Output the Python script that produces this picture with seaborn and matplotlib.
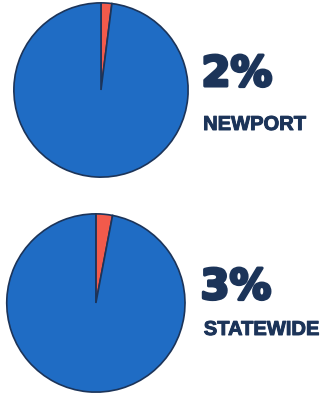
import seaborn as sns
import matplotlib.pyplot as plt
import matplotlib.patheffects as pe

# share of each area (red slice) vs the rest
areas = ["NEWPORT", "STATEWIDE"]
shares = [2, 3]
labels = ["2%", "3%"]

sns.set_theme(style="white")
plt.rcParams['font.family'] = ['Liberation Sans', 'DejaVu Sans']

blue = "#1f6cc4"
red = "#f25a4b"
navy = "#1c3459"

fig = plt.figure(figsize=(3.25, 4), dpi=100)
fig.patch.set_facecolor("white")

# axes boxes in figure fractions (left, bottom, width, height)
boxes = [[0.04, 0.555, 0.5415, 0.44], [0.018, 0.015, 0.554, 0.455]]
big_pos = [(0.62, 0.785), (0.617, 0.2525)]
small_pos = [(0.625, 0.675), (0.627, 0.1625)]

for i in range(2):
    ax = fig.add_axes(boxes[i])
    ax.pie([shares[i], 100 - shares[i]], colors=[red, blue], startangle=90,
           counterclock=False, radius=1,
           wedgeprops=dict(edgecolor=navy, linewidth=1.2))
    ax.set_xlim(-1.01, 1.01)
    ax.set_ylim(-1.01, 1.01)
    ax.axis("off")
    fig.text(big_pos[i][0], big_pos[i][1], labels[i], color=navy, fontsize=30,
             fontweight="bold", family="DejaVu Sans", va="baseline",
             path_effects=[pe.withStroke(linewidth=2.2, foreground=navy)])
    fig.text(small_pos[i][0], small_pos[i][1], areas[i], color=navy, fontsize=14.5,
             fontweight="bold", va="baseline",
             path_effects=[pe.withStroke(linewidth=0.7, foreground=navy)])

fig.savefig("out.png", dpi=100)
